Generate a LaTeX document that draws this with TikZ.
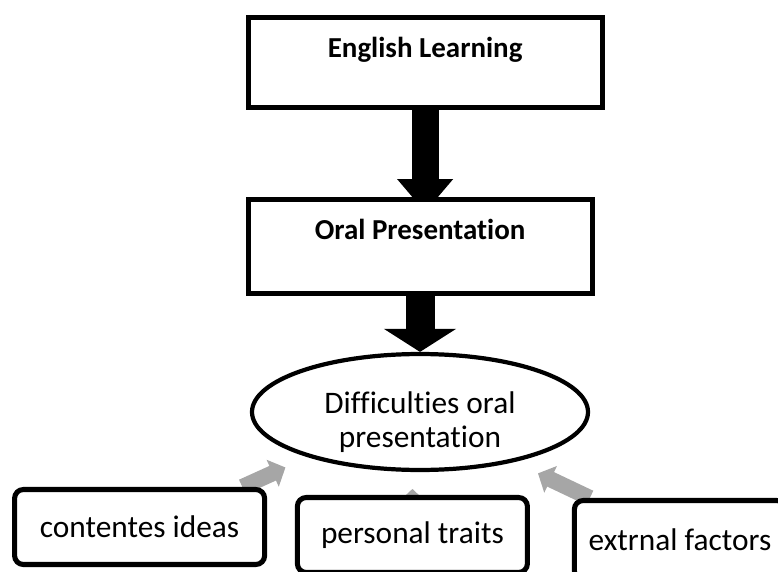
\documentclass[tikz,border=0pt]{standalone}
\usepackage{fontspec}
\setmainfont{Carlito}[Ligatures=NoCommon]
\usetikzlibrary{arrows.meta, positioning, shapes.geometric, backgrounds, calc}
\definecolor{mGray}{HTML}{A6A6A6}

\begin{document}
\begin{tikzpicture}[
    topbox/.style={draw, line width=3.6pt, fill=white, inner ysep=0pt, anchor=north west,
      text height=0.99cm, font=\bfseries\fontsize{20.6}{24}\selectfont},
    causebox/.style={draw, line width=3.6pt, rounded corners=0.22cm, fill=white,
      font=\fontsize{22.3}{26}\selectfont},
    softarrow/.style={mGray, line width=0.4cm, -{Triangle[length=0.35cm, width=0.72cm]}}]
    \useasboundingbox (0,0) rectangle (19.45,14.275);
    \clip (0,0) rectangle (19.45,14.275);
    \node[topbox, minimum width=8.85cm, text depth=1.24cm] (learn) at (6.14,13.89) {English Learning};
    \node[topbox, minimum width=8.6cm, text depth=1.34cm] (oral) at (6.14,9.34) {Oral Presentation};
    \node[ellipse, draw, line width=3pt, fill=white, minimum width=8.4cm, minimum height=2.35cm,
      inner sep=0pt, align=center, text height=1.9cm, text depth=0.15cm,
      font=\fontsize{22.3}{23.5}\selectfont]
      (diff) at (10.5,3.975) {Difficulties oral\\presentation};
    \node[causebox, minimum width=6.25cm, minimum height=1.875cm] (ideas) at (3.49,1.1) {contentes ideas};
    \node[causebox, minimum width=5.75cm, minimum height=1.875cm] (traits) at (10.31,0.9) {personal traits};
    \node[causebox, minimum width=5.28cm, minimum height=1.975cm] (factors) at (17.0,0.775) {extrnal factors};
    % arrows behind the boxes
    \begin{scope}[on background layer]
      \draw[line width=0.675cm, -{Triangle[length=0.83cm, width=1.35cm]}]
        (learn.south) -- ([yshift=-0.37cm]learn.south |- oral.north);
      \draw[line width=0.725cm, -{Triangle[length=0.575cm, width=1.775cm]}]
        (oral.south -| diff.north) -- (diff.north);
      \draw[softarrow, shorten >=0.62cm] ([xshift=-0.62cm]ideas.north east) -- (diff.202);
      \draw[softarrow, line width=0.27cm, shorten >=0.42cm] (traits.north) -- (traits.north |- diff.south);
      \draw[softarrow, shorten >=0.66cm] ([xshift=0.45cm]factors.north west) -- (diff.332);
    \end{scope}
\end{tikzpicture}
\end{document}
